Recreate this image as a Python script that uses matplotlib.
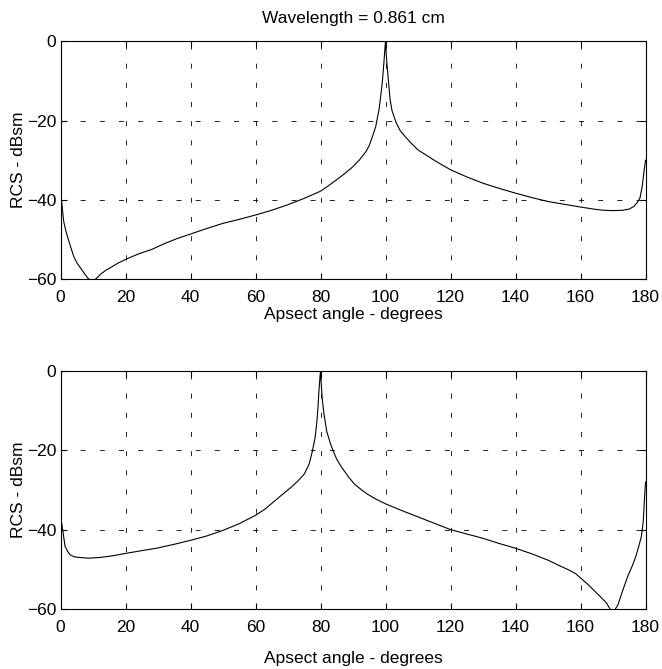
import matplotlib
matplotlib.use("Agg")
import matplotlib.pyplot as plt

plt.rcParams['font.family'] = ['Liberation Sans', 'DejaVu Sans']

# aspect angle (deg) and RCS (dBsm)
angle_top = [0, 0.3, 0.6, 1.0, 1.7, 2.5, 3.3, 4.1, 5, 6.2, 7.3, 8.4, 9.5, 10.5, 11.5, 12.5, 14,
             15.5, 17.5, 20, 24, 28, 32, 36, 40, 45, 50, 55, 60, 65, 70, 75, 80, 83, 85, 88, 90,
             92, 94, 95, 96, 97, 98, 98.5, 99, 99.5, 99.8, 100, 100.2, 100.5, 101, 101.4, 102,
             103.3, 104.5, 106, 108, 110, 114, 117, 120, 125, 130, 135, 140, 145, 150, 155, 160,
             164, 167, 170, 173, 175, 176.5, 177.5, 178.3, 179, 179.5, 180]
rcs_top = [-35, -40, -42.5, -45.5, -48, -50.2, -52.3, -54.3, -55.8, -57.2, -58.5, -59.7, -60.4,
           -60.2, -59.4, -58.6, -57.7, -57, -56, -55, -53.6, -52.5, -51, -49.7, -48.6, -47.2,
           -45.9, -44.9, -43.8, -42.6, -41.2, -39.6, -37.8, -36.1, -34.9, -33, -31.6, -29.9,
           -27.8, -26.3, -24, -21.5, -17.3, -14, -10.5, -5.5, -2, 0, -3, -6.3, -11, -14.7,
           -17.5, -20.6, -22.5, -24, -25.8, -27.4, -29.5, -31, -32.4, -34.2, -35.8, -37.1,
           -38.3, -39.4, -40.4, -41.1, -41.8, -42.3, -42.6, -42.7, -42.6, -42.3, -41.6, -40.6,
           -39.5, -36.5, -33, -30]

angle_bot = [0, 0.3, 0.8, 1.4, 2.2, 2.9, 4, 5.4, 8.8, 12.3, 16, 20, 25, 29.5, 35, 40, 45, 50, 55,
             60, 63, 66, 68.5, 71, 73, 75, 76.5, 77.5, 78.3, 78.8, 79.2, 79.5, 79.8, 80, 80.2,
             80.5, 81, 81.9, 83, 83.9, 85, 86.5, 88.5, 90.4, 92.5, 94.3, 97, 100, 105, 110, 115,
             120, 125, 130, 135, 140, 145, 150, 153, 156.5, 158.5, 160, 162, 164, 166, 168,
             169.3, 170.5, 171.5, 172.5, 174.5, 176, 177, 178, 178.7, 179.3, 179.7, 180]
rcs_bot = [-35, -38, -40.8, -44.2, -45.5, -46.3, -46.8, -47, -47.2, -47, -46.6, -46, -45.3,
           -44.7, -43.7, -42.7, -41.6, -40.2, -38.5, -36.4, -34.8, -32.7, -31, -29.3, -27.8,
           -26, -23.5, -20.2, -17, -13.5, -9.5, -5.2, -2, 0, -3, -6.8, -10.5, -15.2, -18.2,
           -20.2, -22.3, -24.3, -26.6, -28.5, -29.9, -31, -32.3, -33.5, -35.2, -36.8, -38.4,
           -40, -41.1, -42.2, -43.5, -44.7, -46.1, -47.7, -48.9, -50.2, -51.1, -52.2, -53.6,
           -55.2, -56.8, -58.5, -60.3, -60.3, -59, -56.5, -51.8, -49, -46.8, -44, -41.8, -38,
           -32, -28]

xticks = [0, 20, 40, 60, 80, 100, 120, 140, 160, 180]
yticks = [-60, -40, -20, 0]

fig = plt.figure(figsize=(6.62, 6.69), dpi=100)
ax1 = fig.add_axes([0.0914, 0.5825, 0.8837, 0.356])
ax2 = fig.add_axes([0.0914, 0.0897, 0.8837, 0.356])

for ax, x, y, lpad in [(ax1, angle_top, rcs_top, 1), (ax2, angle_bot, rcs_bot, 11.5)]:
    ax.plot(x, y, color='black', linewidth=0.8)
    ax.set_xlim(0, 180)
    ax.set_ylim(-60, 0)
    ax.set_xticks(xticks)
    ax.set_yticks(yticks)
    ax.grid(True, color='black', linewidth=0.6, linestyle=(0, (6, 17)))
    ax.tick_params(direction='in', top=True, right=True, length=4, labelsize=12.5)
    ax.tick_params(axis='x', pad=8)
    ax.tick_params(axis='y', pad=3)
    for s in ax.spines.values():
        s.set_linewidth(0.8)
    ax.set_xlabel('Apsect angle - degrees', fontsize=12.5, labelpad=lpad)
    ax.set_ylabel('RCS - dBsm', fontsize=12.5, labelpad=1)

ax1.set_title('Wavelength = 0.861 cm', fontsize=12.5, pad=13)

fig.savefig('out.png', dpi=100)
